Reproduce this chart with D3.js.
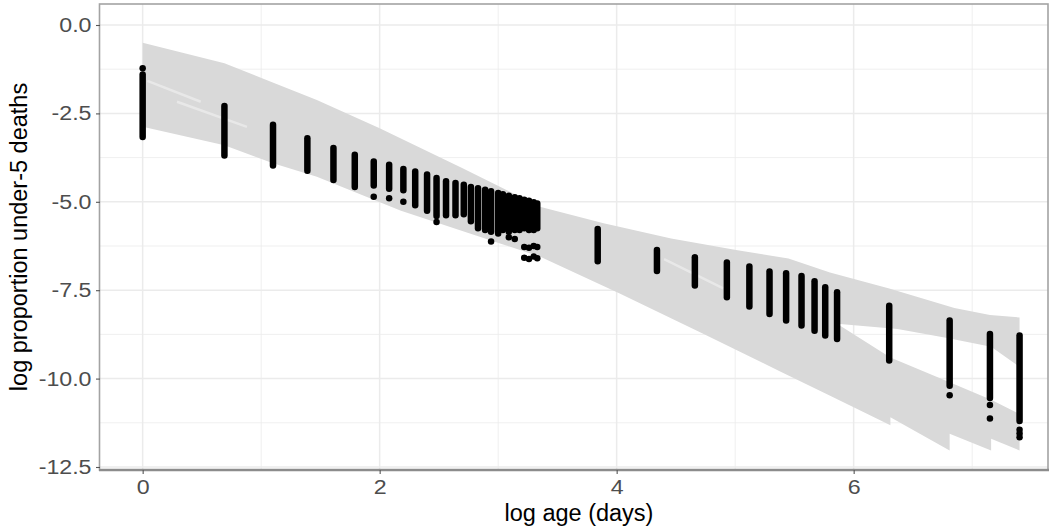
<!DOCTYPE html>
<html>
<head>
<meta charset="utf-8">
<script src="https://cdn.jsdelivr.net/npm/d3@7"></script>
<style>
  body { margin: 0; background: #fff; }
  text { font-family: "Liberation Sans", Arial, sans-serif; }
</style>
</head>
<body>
<div id="container"></div>
<script>
/* CONSTANTS AND GLOBALS */
const width = 1055,
  height = 529,
  margin = { top: 4, bottom: 59, left: 100, right: 7 };
let xScale, yScale

/* DATA */
// x position of each age group (log of age in days)
const logAge = [0, 0.69, 1.10, 1.39, 1.61, 1.79, 1.95, 2.08, 2.20, 2.30, 2.40, 2.48, 2.56, 2.64, 2.71,
  2.77, 2.83, 2.89, 2.94, 3.00, 3.04, 3.09, 3.14, 3.18, 3.22, 3.26, 3.30, 3.33,
  3.84, 4.34, 4.66, 4.93, 5.12, 5.29, 5.43, 5.56, 5.67, 5.76, 5.86,
  6.30, 6.81, 7.15, 7.40];
// highest and lowest observed log proportion in each age group
const obsHigh = [-1.40, -2.29, -2.82, -3.20, -3.48, -3.67, -3.86, -3.95, -4.07, -4.14, -4.23, -4.33, -4.42, -4.47, -4.52,
  -4.58, -4.62, -4.66, -4.70, -4.75, -4.79, -4.83, -4.87, -4.90, -4.94, -4.97, -5.01, -5.05,
  -5.77, -6.36, -6.57, -6.72, -6.83, -6.97, -7.02, -7.10, -7.25, -7.42, -7.56,
  -7.94, -8.36, -8.74, -8.78];
const obsLow = [-3.17, -3.69, -3.97, -4.12, -4.38, -4.58, -4.54, -4.63, -4.67, -5.10, -5.25, -5.40, -5.38, -5.38, -5.35,
  -5.55, -5.75, -5.80, -5.85, -5.90, -5.80, -5.85, -5.80, -5.80, -5.75, -5.80, -5.80, -5.75,
  -6.68, -6.96, -7.37, -7.70, -7.96, -8.17, -8.36, -8.50, -8.65, -8.78, -8.88,
  -9.49, -10.20, -10.55, -11.20];
// isolated observations away from the main run of points
const outlierAge = [0, 1.95, 2.08, 2.20, 2.48, 2.94, 3.09, 3.14, 3.22, 3.26, 3.30, 3.33, 3.22, 3.26, 3.30, 3.33,
  6.81, 7.15, 7.15, 7.40, 7.40, 7.40];
const outlierValue = [-1.22, -4.86, -4.90, -5.00, -5.57, -6.12, -6.00, -6.05, -6.28, -6.30, -6.25, -6.28, -6.58, -6.62, -6.55, -6.60,
  -10.47, -10.75, -11.13, -11.45, -11.55, -11.66];

// outline of the grey envelope of fitted curves
const envelopeAge = [0, 0.69, 1.05, 1.47, 2.00, 2.70, 3.36, 3.89, 4.46, 5.02, 5.45, 5.80, 6.30, 6.85, 7.15, 7.40,
  7.40, 7.16, 6.79, 6.37, 5.86,
  6.31, 6.81, 7.16, 7.40,
  7.40, 7.16, 7.16, 6.81, 6.81, 6.31, 6.31,
  5.81, 5.38, 4.73, 4.03, 3.36, 2.18, 1.47, 1.10, 0.69, 0];
const envelopeValue = [-0.50, -1.08, -1.56, -2.12, -2.92, -4.05, -5.15, -5.61, -6.04, -6.37, -6.60, -7.00, -7.45, -8.00, -8.20, -8.27,
  -9.67, -9.10, -8.85, -8.60, -8.45,
  -9.40, -10.10, -10.60, -11.00,
  -12.03, -11.70, -12.03, -11.56, -12.03, -11.09, -11.32,
  -10.50, -9.80, -8.73, -7.60, -6.56, -5.25, -4.29, -3.91, -3.40, -2.88];
// lighter streaks where fewer curves overlap
const streakAge = [[0.04, 0.49], [0.29, 0.88], [4.40, 4.90]];
const streakValue = [[-1.58, -2.17], [-2.17, -2.88], [-6.62, -7.45]];

const xTicks = [0, 2, 4, 6];
const xMinor = [1, 3, 5, 7];
const yTicks = [0, -2.5, -5, -7.5, -10, -12.5];
const yMinor = [-1.25, -3.75, -6.25, -8.75, -11.25];

/* INITIALIZING FUNCTION */
function init() {
  xScale = d3.scaleLinear()
    .domain([-0.36, 7.64])
    .range([margin.left, width - margin.right])

  yScale = d3.scaleLinear()
    .domain([-12.585, 0.594])
    .range([height - margin.bottom, margin.top])

  draw();
}

/* DRAW FUNCTION */
function draw() {
  const svg = d3.select("#container")
    .append("svg")
    .attr("width", width)
    .attr("height", height)
    .style("background-color", "#ffffff")

  const left = margin.left, right = width - margin.right,
    top = margin.top, bottom = height - margin.bottom;

  // grid
  const grid = svg.append("g")
  grid.selectAll("line.xminor").data(xMinor).join("line")
    .attr("x1", d => xScale(d)).attr("x2", d => xScale(d))
    .attr("y1", top).attr("y2", bottom)
    .attr("stroke", "#ebebeb").attr("stroke-width", 0.8)
  grid.selectAll("line.yminor").data(yMinor).join("line")
    .attr("y1", d => yScale(d)).attr("y2", d => yScale(d))
    .attr("x1", left).attr("x2", right)
    .attr("stroke", "#ebebeb").attr("stroke-width", 0.8)
  grid.selectAll("line.xmajor").data(xTicks).join("line")
    .attr("x1", d => xScale(d)).attr("x2", d => xScale(d))
    .attr("y1", top).attr("y2", bottom)
    .attr("stroke", "#ebebeb").attr("stroke-width", 1.5)
  grid.selectAll("line.ymajor").data(yTicks).join("line")
    .attr("y1", d => yScale(d)).attr("y2", d => yScale(d))
    .attr("x1", left).attr("x2", right)
    .attr("stroke", "#ebebeb").attr("stroke-width", 1.5)

  // grey envelope
  const envelope = envelopeAge.map((a, i) => [a, envelopeValue[i]]);
  const line = d3.line().x(d => xScale(d[0])).y(d => yScale(d[1]));
  svg.append("path")
    .attr("d", line(envelope) + "Z")
    .attr("fill", "#d9d9d9")

  svg.selectAll("path.streak")
    .data(streakAge.map((a, i) => a.map((v, j) => [v, streakValue[i][j]])))
    .join("path")
    .attr("class", "streak")
    .attr("d", line)
    .attr("fill", "none")
    .attr("stroke", "#ffffff")
    .attr("stroke-opacity", 0.4)
    .attr("stroke-width", 2.5)

  // observed points: each age group is a dense run of points
  const cols = logAge.map((a, i) => ({ age: a, hi: obsHigh[i], lo: obsLow[i] }));
  svg.selectAll("line.col")
    .data(cols)
    .join("line")
    .attr("class", "col")
    .attr("x1", d => xScale(d.age)).attr("x2", d => xScale(d.age))
    .attr("y1", d => yScale(d.hi)).attr("y2", d => yScale(d.lo))
    .attr("stroke", "#000")
    .attr("stroke-width", 6.5)
    .attr("stroke-linecap", "round")

  svg.selectAll("circle.out")
    .data(outlierAge.map((a, i) => ({ age: a, v: outlierValue[i] })))
    .join("circle")
    .attr("class", "out")
    .attr("cx", d => xScale(d.age))
    .attr("cy", d => yScale(d.v))
    .attr("r", 3.25)
    .attr("fill", "#000")

  // panel border
  svg.append("rect")
    .attr("x", left - 0.5).attr("y", top)
    .attr("width", right - left + 0.5).attr("height", bottom - top)
    .attr("fill", "none")
    .attr("stroke", "#a3a3a3")
    .attr("stroke-width", 1.6)
  svg.append("line")
    .attr("x1", left - 1).attr("x2", right + 1)
    .attr("y1", bottom).attr("y2", bottom)
    .attr("stroke", "#8c8c8c")
    .attr("stroke-width", 2.4)

  // axes
  const stretch = 1.16;
  const xAxis = d3.axisBottom(xScale).tickValues(xTicks).tickSize(4).tickPadding(6).tickFormat(d => d);
  const yAxis = d3.axisLeft(yScale).tickValues(yTicks).tickSize(4).tickPadding(4).tickFormat(d => d.toFixed(1));

  const gx = svg.append("g")
    .attr("transform", `translate(0,${bottom})`)
    .call(xAxis)
  const gy = svg.append("g")
    .attr("transform", `translate(${left},0)`)
    .call(yAxis)

  for (const g of [gx, gy]) {
    g.select(".domain").remove()
    g.selectAll(".tick line").attr("stroke", "#555555").attr("stroke-width", 1.1)
    g.selectAll(".tick text")
      .attr("fill", "#4d4d4d")
      .attr("transform", `scale(${stretch},1)`)
      .style("font-size", "20px")
      .style("font-family", "'Liberation Sans', Arial, sans-serif")
  }
  gy.selectAll(".tick text").attr("x", -8.5 / stretch)

  // axis titles
  svg.append("text")
    .attr("x", (left + right) / 2 + 5)
    .attr("y", 521)
    .attr("text-anchor", "middle")
    .style("font-size", "23.5px")
    .text("log age (days)")

  svg.append("text")
    .attr("transform", `translate(27,${(top + bottom) / 2}) rotate(-90)`)
    .attr("text-anchor", "middle")
    .style("font-size", "23.5px")
    .text("log proportion under-5 deaths")
}

init();
</script>
</body>
</html>
